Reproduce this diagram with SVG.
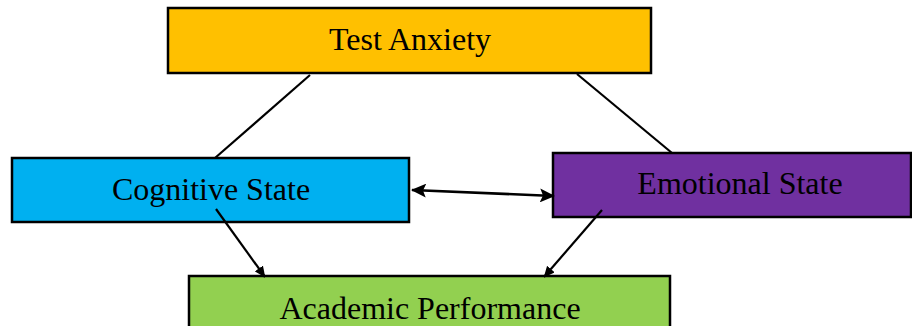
<svg xmlns="http://www.w3.org/2000/svg" width="912" height="326" viewBox="0 0 912 326">
  <defs>
    <style>
      .box { stroke: #000; stroke-width: 2.5; }
      .label { font-family: "Liberation Serif", "Times New Roman", serif; font-size: 32px; fill: #000; text-anchor: middle; }
      .link { stroke: #000; stroke-width: 2.2; fill: none; }
      .bold { stroke-width: 2.6; }
    </style>
    <marker id="head-lg" viewBox="0 0 15 14" refX="14" refY="7" markerWidth="15" markerHeight="14" orient="auto-start-reverse" markerUnits="userSpaceOnUse">
      <path d="M0,0 L15,7 L0,14 L3,7 z" fill="#000"/>
    </marker>
    <marker id="head-sm" viewBox="0 0 11 10" refX="10.5" refY="5" markerWidth="11" markerHeight="10" orient="auto" markerUnits="userSpaceOnUse">
      <path d="M0,0 L11,5 L0,10 z" fill="#000"/>
    </marker>
  </defs>
  <rect width="912" height="326" fill="#fff"/>

  <g id="test-anxiety">
    <rect class="box" x="168" y="8" width="483" height="65" fill="#FFC000"/>
    <text class="label" x="410" y="50">Test Anxiety</text>
  </g>

  <g id="cognitive-state">
    <rect class="box" x="12" y="158" width="397" height="64" fill="#00B0F0"/>
    <text class="label" x="211" y="200">Cognitive State</text>
  </g>

  <g id="emotional-state">
    <rect class="box" x="553" y="153" width="358" height="64" fill="#7030A0"/>
    <text class="label" x="740" y="194">Emotional State</text>
  </g>

  <g id="academic-performance">
    <rect class="box" x="189" y="276" width="481" height="60" fill="#92D050"/>
    <text class="label" x="430" y="319">Academic Performance</text>
  </g>

  <g id="connectors">
    <line class="link" x1="310" y1="75" x2="215" y2="158"/>
    <line class="link" x1="577" y1="74" x2="672" y2="153"/>
    <line class="link bold" x1="412" y1="190" x2="554" y2="196" marker-start="url(#head-lg)" marker-end="url(#head-lg)"/>
    <line class="link" x1="216" y1="209" x2="265" y2="277" marker-end="url(#head-sm)"/>
    <line class="link" x1="602" y1="210" x2="544" y2="277" marker-end="url(#head-sm)"/>
  </g>
</svg>
